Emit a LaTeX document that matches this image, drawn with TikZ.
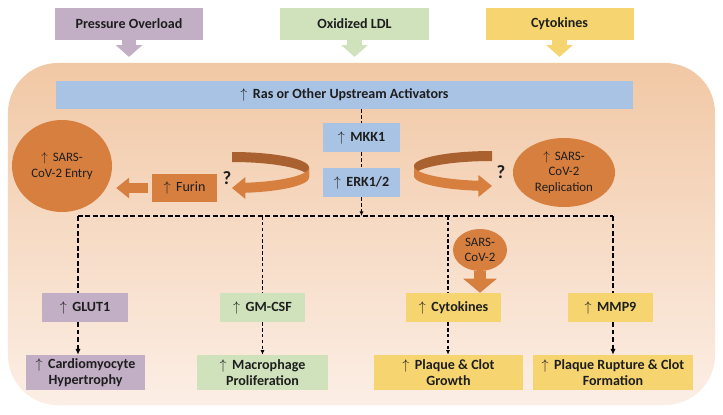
\documentclass[tikz,border=0pt]{standalone}
\usepackage{fontspec}
\setmainfont{Carlito}
\usepackage{tikz}
\usetikzlibrary{shapes.geometric}
\usetikzlibrary{arrows.meta}
\definecolor{purp}{HTML}{C2AFC6}
\definecolor{lgreen}{HTML}{D0E2BC}
\definecolor{yell}{HTML}{F6D570}
\definecolor{lblue}{HTML}{A9C3E5}
\definecolor{orng}{HTML}{D77F3F}
\definecolor{brwn}{HTML}{A9622F}
\definecolor{bgtop}{HTML}{F1C8A5}
\definecolor{bgbot}{HTML}{FCEEE5}
\definecolor{txt}{HTML}{1E1E1E}
\newcommand{\upar}{$\uparrow$\,}

\begin{document}
\begin{tikzpicture}[x=0.03cm,y=-0.03cm,
  box/.style={rectangle,inner sep=0pt,align=center,text=txt,font=\fontsize{12}{14}\selectfont\bfseries},
  inbox/.style={box,minimum width=4.44cm,minimum height=0.96cm},
  midbox/.style={box,minimum height=0.87cm},
  lowbox/.style={box,minimum height=1.05cm},
  blob/.style={ellipse,fill=orng,inner sep=0pt,align=center,text=txt,font=\fontsize{11}{13}\selectfont},
  bus/.style={line width=1.8pt,dash pattern=on 4pt off 2.4pt},
  link/.style={line width=0.9pt,dash pattern=on 3pt off 2pt},
  fatarrow/.style={line width=#1},
  qmark/.style={text=txt,font=\fontsize{16}{16}\selectfont\bfseries}]
\fill[white] (0,0) rectangle (723,414);
\useasboundingbox (0,0) rectangle (723,414);
\path (361.5,234) node(cell)[rectangle,rounded corners=1.5cm,top color=bgtop,bottom color=bgbot,minimum width=21.21cm,minimum height=10.26cm]{};

\path (129,24) node(pressure)[inbox,fill=purp]{Pressure Overload}
(354.5,24) node(oxldl)[inbox,fill=lgreen]{Oxidized LDL}
(559.5,24) node(cytotop)[inbox,fill=yell]{Cytokines}
(344.5,95) node(ras)[midbox,fill=lblue,minimum width=17.31cm,minimum height=0.84cm]{\upar~Ras or Other Upstream Activators}
(361.5,137.5) node(mkk)[midbox,fill=lblue,minimum width=2.31cm]{\upar~MKK1}
(361.5,182.5) node(erk)[midbox,fill=lblue,minimum width=2.31cm]{\upar~ERK1/2}
(184.5,188) node(furin)[box,fill=orng,minimum width=1.95cm,minimum height=0.84cm,font=\fontsize{12}{14}\selectfont]{\upar~Furin}
(62,166) node(entry)[blob,minimum width=3cm,minimum height=2.76cm]{\upar~SARS-\\CoV-2 Entry}
(564,172.5) node(replic)[blob,minimum width=3.06cm,minimum height=2.07cm]{\upar~SARS-\\CoV-2\\Replication}
(480,250) node(sars)[blob,minimum width=1.62cm,minimum height=1.26cm]{SARS-\\CoV-2}
(227,178) node(q1)[qmark]{?}
(501,172) node(q2)[qmark]{?}
(85,307.5) node(glut)[midbox,fill=purp,minimum width=2.58cm]{\upar~GLUT1}
(85.5,372.5) node(cardio)[lowbox,fill=purp,minimum width=3.57cm]{\upar~Cardiomyocyte\\Hypertrophy}
(262.5,307.5) node(gmcsf)[midbox,fill=lgreen,minimum width=2.55cm]{\upar~GM-CSF}
(262.5,372.5) node(macro)[lowbox,fill=lgreen,minimum width=3.93cm]{\upar~Macrophage\\Proliferation}
(453.5,307.5) node(cytolow)[midbox,fill=yell,minimum width=2.85cm]{\upar~Cytokines}
(448.5,372.5) node(plaque)[lowbox,fill=yell,minimum width=4.47cm]{\upar~Plaque \& Clot\\Growth}
(610.5,307.5) node(mmp)[midbox,fill=yell,minimum width=2.55cm]{\upar~MMP9}
(613,372.5) node(rupture)[lowbox,fill=yell,minimum width=4.8cm]{\upar~Plaque Rupture \& Clot\\Formation};

% inputs into the cell
\draw[purp,fatarrow=12pt,-{Triangle[length=10pt,width=22pt]},shorten >=5pt](pressure.south)--(pressure.south |- cell.north);
\draw[lgreen,fatarrow=12pt,-{Triangle[length=10pt,width=22pt]},shorten >=5pt](oxldl.south)--(oxldl.south |- cell.north);
\draw[yell,fatarrow=12pt,-{Triangle[length=10pt,width=22pt]},shorten >=5pt](cytotop.south)--(cytotop.south |- cell.north);
\draw[orng,fatarrow=8.5pt,-{Triangle[length=11pt,width=17pt]},shorten <=3.4pt,shorten >=3.4pt](furin.west)--(furin.west -| entry.east);
\draw[orng,fatarrow=9.4pt,-{Triangle[length=12pt,width=28pt]}](sars.south)--(sars.south |- cytolow.north);

% turning arrows
\fill[brwn] plot[domain=270:360,samples=30] ({232+77*cos(\x)},{167.5+15.5*sin(\x)}) -- plot[domain=360:270,samples=30] ({232+77*cos(\x)},{177.5+15.5*sin(\x)}) -- cycle;
\fill[orng] plot[domain=0:80,samples=30] ({232+77*cos(\x)},{167.5+15.5*sin(\x)}) -- (245.4,177) -- (232,188) -- (245.4,199) -- plot[domain=80:0,samples=30] ({232+77*cos(\x)},{177.5+15.5*sin(\x)}) -- cycle;
\fill[brwn] plot[domain=180:270,samples=30] ({492+78*cos(\x)},{166+15*sin(\x)}) -- plot[domain=270:180,samples=30] ({492+78*cos(\x)},{176+15*sin(\x)}) -- cycle;
\fill[orng] plot[domain=180:100,samples=30] ({492+78*cos(\x)},{166+15*sin(\x)}) -- (478.5,175) -- (492,186) -- (478.5,197) -- plot[domain=100:180,samples=30] ({492+78*cos(\x)},{176+15*sin(\x)}) -- cycle;

% signalling
\coordinate (b1) at (78,216);
\coordinate (b2) at (262.5,216);
\coordinate (b3) at (448,216);
\coordinate (b4) at (613,216);
\draw[link](mkk.north |- ras.south)--(mkk.north);
\draw[link](mkk.south)--(erk.north);
\draw[link,-{Latex[length=4pt,width=3.5pt]}](erk.south)--(erk.south |- b1);
\draw[bus](b1)--(b4);
\draw[bus](b1)--(b1 |- glut.north);
\draw[bus,-{Latex[length=5pt,width=4.5pt]}](b1 |- glut.south)--(b1 |- cardio.north);
\draw[link](b2)--(gmcsf.north);
\draw[link,-{Latex[length=4pt,width=3.5pt]}](gmcsf.south)--(macro.north);
\draw[link](b3)--(b3 |- cytolow.north);
\draw[link,-{Latex[length=4pt,width=3.5pt]}](b3 |- cytolow.south)--(b3 |- plaque.north);
\draw[bus](b4)--(b4 |- mmp.north);
\draw[bus,-{Latex[length=5pt,width=4.5pt]}](b4 |- mmp.south)--(b4 |- rupture.north);

\end{tikzpicture}
\end{document}
